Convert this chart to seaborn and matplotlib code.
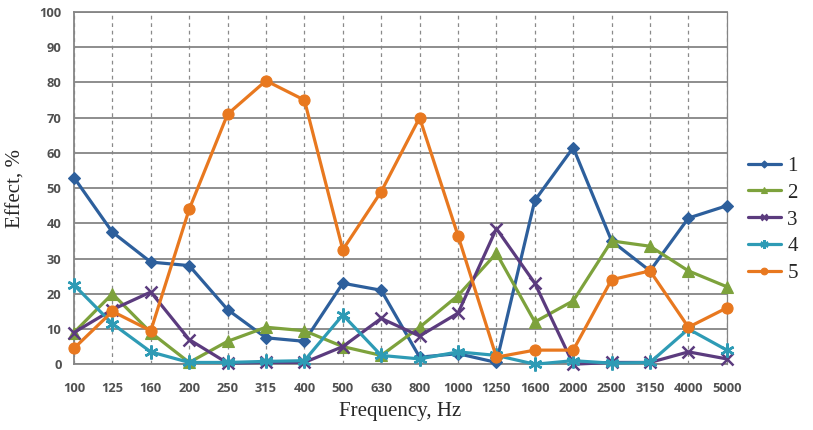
import matplotlib
matplotlib.use("Agg")
import matplotlib.pyplot as plt
import seaborn as sns
import pandas as pd

frequencies = ["100", "125", "160", "200", "250", "315", "400", "500", "630",
               "800", "1000", "1250", "1600", "2000", "2500", "3150", "4000", "5000"]

series_1 = [53, 37.5, 29, 28, 15.5, 7.5, 6.5, 23, 21, 2, 3, 0.5, 46.5, 61.5, 35, 26.5, 41.5, 45]
series_2 = [9, 20, 9, 0.5, 6.5, 10.5, 9.5, 5, 2.5, 10.5, 19.5, 31.5, 12, 18, 35, 33.5, 26.5, 22]
series_3 = [9, 15.5, 20.5, 7, 0.3, 0.5, 0.5, 5, 13, 8, 14.5, 38.5, 23, 0, 0.5, 0.5, 3.5, 1.5]
series_4 = [22.5, 11.5, 3.5, 0.5, 0.5, 0.8, 1, 14, 2.5, 1.5, 3.5, 2.5, 0, 1, 0.3, 0.5, 10, 4]
series_5 = [4.5, 15, 9.5, 44, 71, 80.5, 75, 32.5, 49, 70, 36.5, 2, 4, 4, 24, 26.5, 10.5, 16]

series_names = ["1", "2", "3", "4", "5"]
series_values = [series_1, series_2, series_3, series_4, series_5]

colors = {"1": "#2D5F9C", "2": "#7DA23C", "3": "#5B3B7E", "4": "#2E9BB5", "5": "#E8781F"}
markers = {"1": "D", "2": "^", "3": "x", "4": (6, 2, 0), "5": "o"}
msizes = {"1": 6, "2": 8, "3": 8, "4": 10, "5": 8}

rows = []
for name, vals in zip(series_names, series_values):
    for i, v in enumerate(vals):
        rows.append({"pos": i, "freq": frequencies[i], "effect": v, "series": name})
df = pd.DataFrame(rows)

sns.set_style("white")
plt.rcParams["font.family"] = ["DejaVu Sans"]

fig = plt.figure(figsize=(8.13, 4.30), dpi=100)
ax = fig.add_axes([0.091, 0.153, 0.803, 0.819])

for name in series_names:
    sub = df[df["series"] == name]
    sns.lineplot(data=sub, x="pos", y="effect", ax=ax, color=colors[name],
                 marker=markers[name], markersize=msizes[name], linewidth=2.3,
                 markeredgecolor=colors[name], markeredgewidth=1.8 if name in ("3", "4") else 0.8,
                 label=name, clip_on=False, zorder=3)

ax.set_xlim(0, len(frequencies) - 1)
ax.set_ylim(0, 100)
ax.set_xticks(range(len(frequencies)))
ax.set_xticklabels(frequencies)
ax.set_yticks(range(0, 101, 10))

ax.yaxis.grid(True, color="#858585", linewidth=1.3, linestyle="-")
ax.xaxis.grid(True, color="#8a8a8a", linewidth=0.9, linestyle=(0, (3, 3)))
ax.set_axisbelow(True)
for side in ("left", "right", "top", "bottom"):
    ax.spines[side].set_visible(True)
    ax.spines[side].set_color("#858585")
    ax.spines[side].set_linewidth(1.3)
ax.spines["right"].set_linewidth(0.9)

ax.tick_params(axis="both", which="both", direction="out", length=4, color="#858585",
               labelcolor="#505050", labelsize=9.3, pad=5)
for lbl in ax.get_xticklabels() + ax.get_yticklabels():
    lbl.set_fontfamily("Open Sans")
    lbl.set_fontweight("bold")
ax.tick_params(axis="x", pad=9)

ax.set_xlabel("Frequency, Hz", fontfamily="Liberation Serif", fontsize=15, labelpad=5)
ax.set_ylabel("Effect, %", fontfamily="Liberation Serif", fontsize=15, labelpad=10)

leg = ax.legend(loc="center left", bbox_to_anchor=(1.0, 0.41), frameon=False,
                prop={"family": "Liberation Serif", "size": 15}, handlelength=1.6,
                labelspacing=0.35, handletextpad=0.3, borderaxespad=0.6, markerscale=0.6)

fig.savefig("out.png", dpi=100)
